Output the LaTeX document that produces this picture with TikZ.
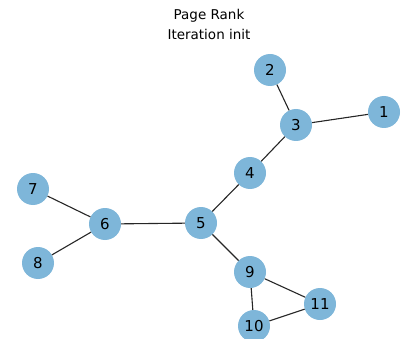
\documentclass[tikz,border=0pt]{standalone}
\usepackage{fontspec}
\setmainfont{DejaVu Sans}
\usetikzlibrary{positioning}
\definecolor{myblue}{RGB}{126,182,217}

\begin{document}
\begin{tikzpicture}[x=1pt,y=-1pt,
  vertex/.style={circle,fill=myblue,minimum size=32pt,inner sep=0pt,
    font=\fontsize{15}{18}\selectfont},
  edge/.style={line width=1.1pt,black!85}
]
\useasboundingbox (0,0) rectangle (401,339);

% the title
\node[align=center,font=\fontsize{13.5}{20}\selectfont] (title) at (209,24)
  {Page Rank\\Iteration init};

% the pages
\foreach \i/\x/\y in {1/384/112,2/270/70,3/296/125,4/250/173,5/201/223,
  6/105/224,7/33/189,8/38/263,9/250/272,10/254/326,11/320/304}
  \node[vertex] (p\i) at (\x,\y) {\i};

% the links
\draw[edge] (p2) -- (p3);
\draw[edge] (p1) -- (p3);
\draw[edge] (p3) -- (p4);
\draw[edge] (p4) -- (p5);
\draw[edge] (p5) -- (p6);
\draw[edge] (p6) -- (p7);
\draw[edge] (p6) -- (p8);
\draw[edge] (p5) -- (p9);
\draw[edge] (p9) -- (p10);
\draw[edge] (p9) -- (p11);
\draw[edge] (p10) -- (p11);
\end{tikzpicture}
\end{document}
